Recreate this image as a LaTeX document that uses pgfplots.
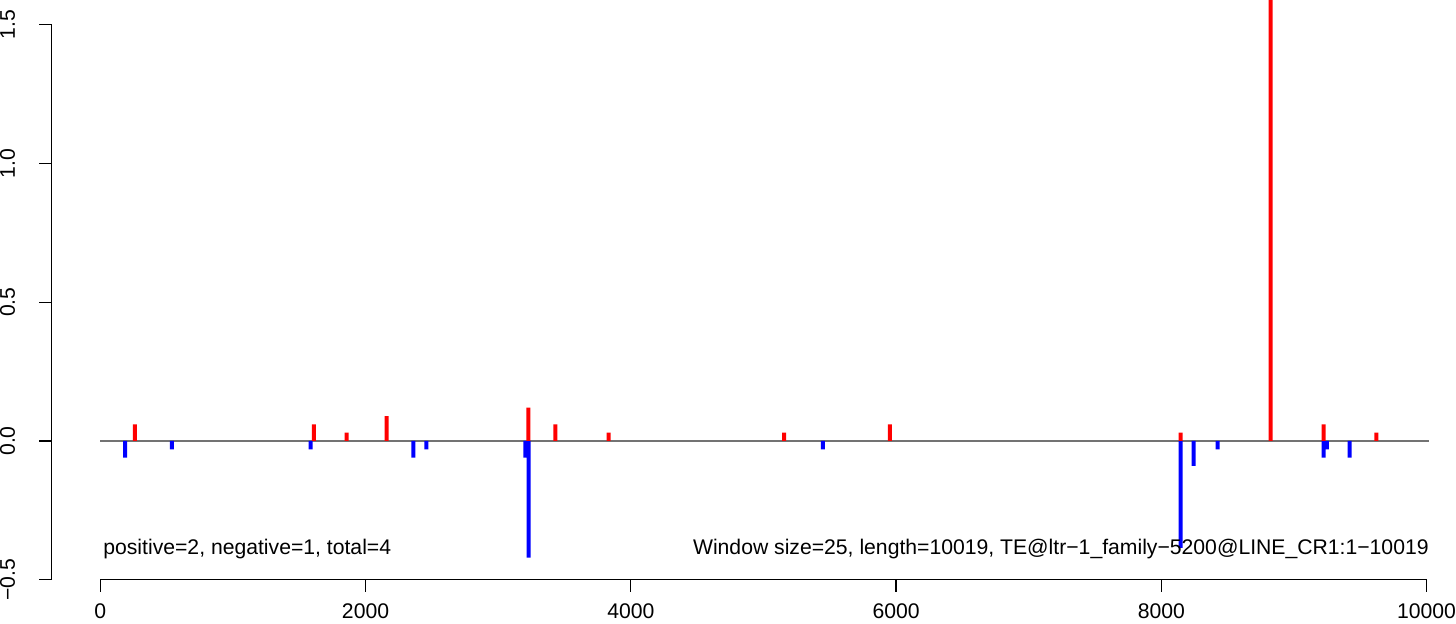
\documentclass[border=0pt]{standalone}
\usepackage{fontspec}
\setmainfont{Liberation Sans}
\usepackage{pgfplots}
\pgfplotsset{compat=1.18}
\definecolor{zeroline}{gray}{0.45}

\begin{document}
\begin{tikzpicture}
\begin{axis}[
    scale only axis,
    width=697pt, height=290pt,
    xmin=-369, xmax=10128,
    ymin=-0.5, ymax=1.586,
    axis x line*=bottom, axis y line*=left,
    axis line style={draw=none},
    scaled x ticks=false, scaled y ticks=false,
    xtick={0,2000,4000,6000,8000,10000},
    xticklabels={0,2000,4000,6000,8000,10000},
    ytick={-0.5,0,0.5,1,1.5},
    yticklabels={−0.5,0.0,0.5,1.0,1.5},
    tick align=outside, major tick length=6pt,
    tick style={black, line width=0.6pt},
    xticklabel style={anchor=north, inner sep=0pt, text depth=2.5pt, yshift=-6pt},
    yticklabel style={xshift=-12pt, rotate=90, anchor=south, inner sep=0pt},
    font=\fontsize{10.6}{12.7}\selectfont,
    clip mode=individual,
]
% zero line
\addplot[zeroline, line width=0.6pt] coordinates {(0,0) (10019,0)};

% negative windows
\addplot[ybar, bar width=2pt, bar shift=0pt, fill=blue, draw=none] coordinates {
    (188,-0.06) (540,-0.03) (1586,-0.03) (2361,-0.06) (2459,-0.03)
    (3205,-0.06) (3230,-0.42) (5449,-0.03)
    (8145,-0.385) (8243,-0.09) (8424,-0.03)
    (9224,-0.06) (9249,-0.03) (9420,-0.06)
};

% positive windows
\addplot[ybar, bar width=2pt, bar shift=0pt, fill=red, draw=none] coordinates {
    (261,0.06) (1611,0.06) (1857,0.03) (2159,0.09)
    (3228,0.12) (3431,0.06) (3833,0.03) (5156,0.03) (5954,0.06)
    (8145,0.03) (8825,1.70) (9224,0.06) (9621,0.03)
};

\draw[line width=0.6pt] (axis cs:0,-0.5) -- (axis cs:10000,-0.5);
\draw[line width=0.6pt] (axis cs:-369,-0.5) -- (axis cs:-369,1.5);

\node[anchor=west, inner sep=0pt] at (axis cs:20,-0.39) {positive=2, negative=1, total=4};
\node[anchor=east, inner sep=0pt] at (axis cs:10019,-0.39) {Window size=25, length=10019, TE@ltr−1\_family−5200@LINE\_CR1:1−10019};
\end{axis}
\end{tikzpicture}
\end{document}
